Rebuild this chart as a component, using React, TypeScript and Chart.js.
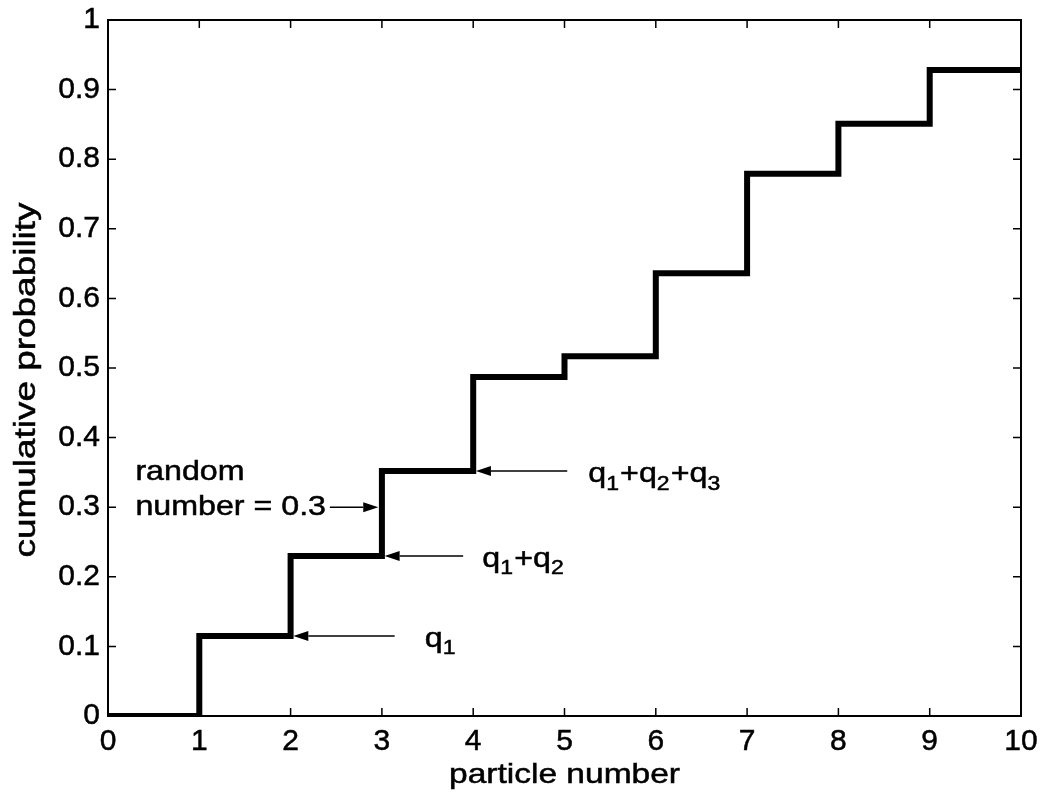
import React, { useEffect, useRef } from "react";
import { Chart, registerables } from "chart.js";

Chart.register(...registerables);

// ---- data ----
const particleNumbers = [0, 1, 2, 3, 4, 5, 6, 7, 8, 9, 10];
const cumulativeProbability = [0, 0.115, 0.23, 0.352, 0.487, 0.517, 0.636, 0.779, 0.851, 0.928, 0.928];
const xTickValues = [0, 1, 2, 3, 4, 5, 6, 7, 8, 9, 10];
const yTickValues = [0, 0.1, 0.2, 0.3, 0.4, 0.5, 0.6, 0.7, 0.8, 0.9, 1];
const xTitle = "particle number";
const yTitle = "cumulative probability";

// annotation arrows (pointing left onto the steps)
const arrowLabels = ["q_1", "q_1+q_2", "q_1+q_2+q_3"];
const arrowFromX = [3.14, 3.89, 5.03];
const arrowTipX = [2.03, 3.03, 4.03];
const arrowY = [0.115, 0.23, 0.352];
const arrowLabelX = [3.47, 4.1, 5.26];

// random number annotation (arrow pointing right)
const randomLabelLines = ["random", "number = 0.3"];
const randomLabelY = [0.35, 0.3];
const randomLabelX = 0.3;
const randomValue = 0.3;
const randomArrowFromX = 2.43;
const randomArrowTipX = 2.96;

const FONT = '"Liberation Sans", Arial, Helvetica, sans-serif';
const STRETCH = 1.15;
const TEXT_STROKE = 0.5;

function drawRich(ctx: CanvasRenderingContext2D, label: string, x: number, y: number) {
  const segs: { t: string; sub: boolean }[] = [];
  let i = 0;
  let buf = "";
  while (i < label.length) {
    if (label[i] === "_") {
      if (buf) segs.push({ t: buf, sub: false });
      buf = "";
      segs.push({ t: label[i + 1], sub: true });
      i += 2;
    } else {
      buf += label[i];
      i++;
    }
  }
  if (buf) segs.push({ t: buf, sub: false });
  ctx.save();
  ctx.translate(x, y);
  ctx.scale(STRETCH, 1);
  ctx.textAlign = "left";
  ctx.textBaseline = "middle";
  ctx.fillStyle = "#000";
  ctx.strokeStyle = "#000";
  ctx.lineWidth = TEXT_STROKE;
  let cx = 0;
  for (const s of segs) {
    ctx.font = (s.sub ? "20px " : "28px ") + FONT;
    ctx.fillText(s.t, cx, s.sub ? 10 : 0);
    ctx.strokeText(s.t, cx, s.sub ? 10 : 0);
    cx += ctx.measureText(s.t).width + (s.sub ? 1 : 0);
  }
  ctx.restore();
}

function drawFitted(
  ctx: CanvasRenderingContext2D,
  text: string,
  cx: number,
  cy: number,
  size: number,
  targetLen: number,
  rotate: boolean
) {
  ctx.save();
  ctx.font = size + "px " + FONT;
  const w = ctx.measureText(text).width;
  ctx.translate(cx, cy);
  if (rotate) ctx.rotate(-Math.PI / 2);
  ctx.scale(targetLen / w, 1);
  ctx.textAlign = "center";
  ctx.textBaseline = "middle";
  ctx.fillStyle = "#000";
  ctx.strokeStyle = "#000";
  ctx.lineWidth = TEXT_STROKE;
  ctx.fillText(text, 0, 0);
  ctx.strokeText(text, 0, 0);
  ctx.restore();
}

function arrow(ctx: CanvasRenderingContext2D, x1: number, x2: number, y: number) {
  const dir = Math.sign(x2 - x1);
  const headLen = 15;
  const headHalf = 5;
  ctx.save();
  ctx.strokeStyle = "#000";
  ctx.fillStyle = "#000";
  ctx.lineWidth = 1.5;
  ctx.beginPath();
  ctx.moveTo(x1, y);
  ctx.lineTo(x2 - dir * headLen, y);
  ctx.stroke();
  ctx.beginPath();
  ctx.moveTo(x2, y);
  ctx.lineTo(x2 - dir * headLen, y - headHalf);
  ctx.lineTo(x2 - dir * headLen, y + headHalf);
  ctx.closePath();
  ctx.fill();
  ctx.restore();
}

const framePlugin = {
  id: "frameAndNotes",
  afterDatasetsDraw(chart: any) {
    const { ctx, chartArea } = chart;
    const xs = chart.scales.x;
    const ys = chart.scales.y;
    const { left, right, top, bottom } = chartArea;
    ctx.save();
    ctx.strokeStyle = "#000";
    ctx.lineWidth = 2;
    ctx.strokeRect(left, top, right - left, bottom - top);
    ctx.lineWidth = 1.5;
    const tl = 8;
    ctx.beginPath();
    for (const v of xTickValues) {
      const px = xs.getPixelForValue(v);
      ctx.moveTo(px, bottom);
      ctx.lineTo(px, bottom - tl);
      ctx.moveTo(px, top);
      ctx.lineTo(px, top + tl);
    }
    for (const v of yTickValues) {
      const py = ys.getPixelForValue(v);
      ctx.moveTo(left, py);
      ctx.lineTo(left + tl, py);
      ctx.moveTo(right, py);
      ctx.lineTo(right - tl, py);
    }
    ctx.stroke();
    ctx.restore();

    ctx.save();
    arrowLabels.forEach((lab, i) => {
      const py = ys.getPixelForValue(arrowY[i]);
      arrow(ctx, xs.getPixelForValue(arrowFromX[i]), xs.getPixelForValue(arrowTipX[i]), py);
      drawRich(ctx, lab, xs.getPixelForValue(arrowLabelX[i]), py + 3);
    });
    const ry = ys.getPixelForValue(randomValue);
    arrow(ctx, xs.getPixelForValue(randomArrowFromX), xs.getPixelForValue(randomArrowTipX), ry);
    randomLabelLines.forEach((t, i) => {
      drawRich(ctx, t, xs.getPixelForValue(randomLabelX), ys.getPixelForValue(randomLabelY[i]));
    });
    ctx.restore();

    drawFitted(ctx, xTitle, (left + right) / 2, bottom + 59, 28, 231, false);
    drawFitted(ctx, yTitle, 27, (top + bottom) / 2 + 12, 29, 355, true);
  },
};

export default function App() {
  const ref = useRef<HTMLCanvasElement | null>(null);
  useEffect(() => {
    document.body.style.margin = "0";
    const canvas = ref.current;
    if (!canvas) return;
    const tickFont = { family: FONT, size: 30 };
    const chart = new Chart(canvas, {
      type: "line",
      data: {
        datasets: [
          {
            data: particleNumbers.map((x, i) => ({ x, y: cumulativeProbability[i] })),
            borderColor: "#000",
            borderWidth: 6,
            stepped: "before",
            pointRadius: 0,
            fill: false,
            borderJoinStyle: "miter",
            borderCapStyle: "butt",
          },
        ],
      },
      options: {
        responsive: false,
        animation: false,
        layout: { padding: { top: 20, right: 24, left: 0, bottom: 0 } },
        plugins: { legend: { display: false }, tooltip: { enabled: false }, title: { display: false } },
        scales: {
          x: {
            type: "linear",
            min: 0,
            max: 10,
            afterFit: (s: any) => {
              s.height = 83;
              s.paddingLeft = 0;
              s.paddingRight = 0;
            },
            afterBuildTicks: (s: any) => {
              s.ticks = xTickValues.map((v) => ({ value: v }));
            },
            grid: { display: false, drawTicks: false },
            border: { display: false },
            ticks: {
              padding: 8,
              color: "#000",
              font: tickFont,
              textStrokeColor: "#000",
              textStrokeWidth: TEXT_STROKE,
              callback: (v: any) => String(v),
            },
          },
          y: {
            type: "linear",
            min: 0,
            max: 1,
            afterFit: (s: any) => {
              s.width = 108;
              s.paddingTop = 0;
              s.paddingBottom = 0;
            },
            afterBuildTicks: (s: any) => {
              s.ticks = yTickValues.map((v) => ({ value: v }));
            },
            grid: { display: false, drawTicks: false },
            border: { display: false },
            ticks: {
              padding: 8,
              color: "#000",
              font: tickFont,
              textStrokeColor: "#000",
              textStrokeWidth: TEXT_STROKE,
              callback: (v: any) => String(Math.round(v * 10) / 10),
            },
          },
        },
      },
      plugins: [framePlugin],
    });
    return () => chart.destroy();
  }, []);
  return <canvas ref={ref} width={1045} height={799} style={{ display: "block" }} />;
}
